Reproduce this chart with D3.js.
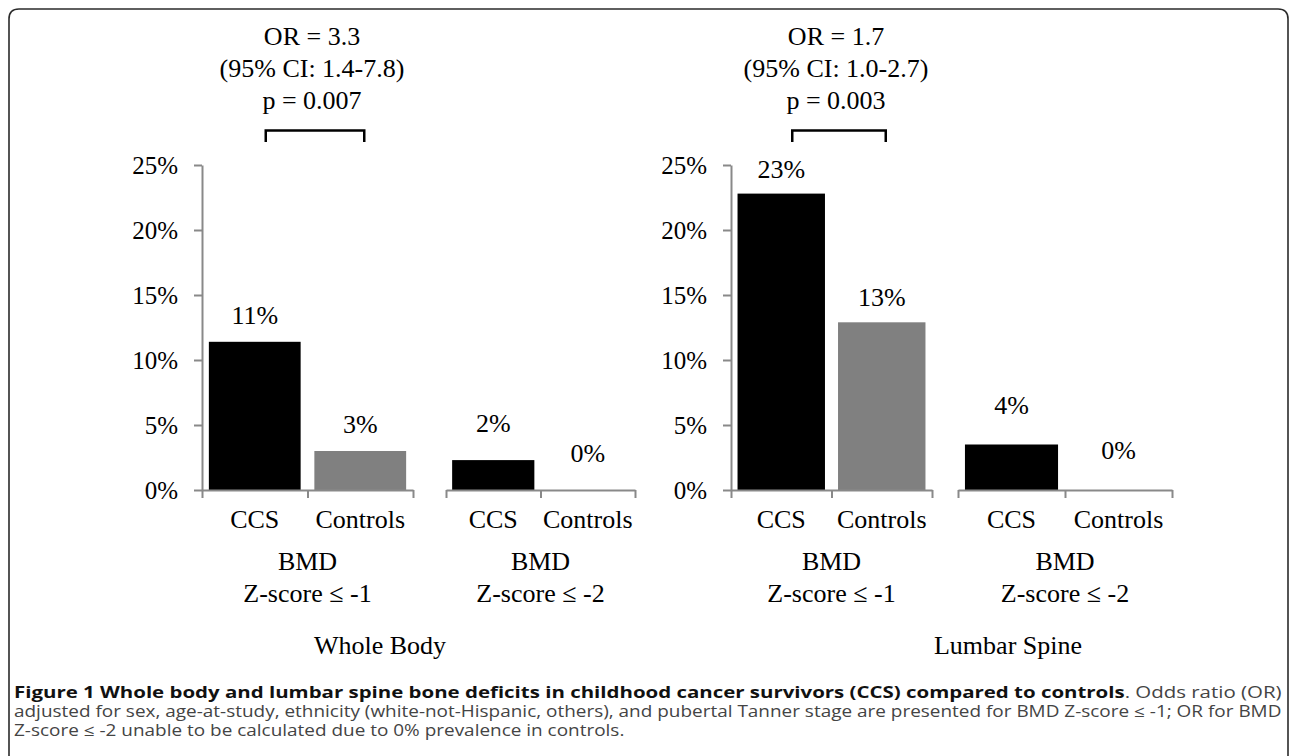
<!DOCTYPE html>
<html><head><meta charset="utf-8">
<script src="https://cdn.jsdelivr.net/npm/d3@7"></script>
<style>body{margin:0;background:#fff} svg{display:block}</style>
</head><body>
<svg id="c" width="1290" height="756"></svg>
<script>
// ---------- data ----------
const categories = ["CCS", "Controls"];
const wholeBodyZ1 = [11.4, 3.0];
const wholeBodyZ2 = [2.3, 0.0];
const lumbarZ1 = [22.8, 12.9];
const lumbarZ2 = [3.5, 0.0];
const yTicks = [0, 5, 10, 15, 20, 25];
const groupLine1 = "BMD";
const groupLine2 = ["Z-score ≤ -1", "Z-score ≤ -2"];
const panelTitles = ["Whole Body", "Lumbar Spine"];
const orWholeBody = ["OR = 3.3", "(95% CI: 1.4-7.8)", "p = 0.007"];
const orLumbar = ["OR = 1.7", "(95% CI: 1.0-2.7)", "p = 0.003"];
const captionBold = "Figure 1 Whole body and lumbar spine bone deficits in childhood cancer survivors (CCS) compared to controls";
const captionLine1Rest = ". Odds ratio (OR)";
const captionLine2 = "adjusted for sex, age-at-study, ethnicity (white-not-Hispanic, others), and pubertal Tanner stage are presented for BMD Z-score ≤ -1; OR for BMD";
const captionLine3 = "Z-score ≤ -2 unable to be calculated due to 0% prevalence in controls.";

// ---------- layout ----------
const svg = d3.select("#c");
const serif = "'Liberation Serif','Times New Roman',serif";
const sans = "'Open Sans','Noto Sans',sans-serif";
const axisColor = "#898989";
const barColors = ["#000000", "#808080"];

svg.append("path")
  .attr("d", "M9,770V19Q9,9 19,9H1278Q1288,9 1288,19V770")
  .attr("fill", "none").attr("stroke", "#2b2b2b").attr("stroke-width", 1.6);

const y = d3.scaleLinear().domain([0, 25]).range([490, 165]);

const charts = [
  {values: wholeBodyZ1, x0: 202, x1: 413, yAxis: true, sub: 0, off: 18},
  {values: wholeBodyZ2, x0: 446, x1: 635, yAxis: false, sub: 1, off: 28},
  {values: lumbarZ1, x0: 731, x1: 932, yAxis: true, sub: 0, off: 16},
  {values: lumbarZ2, x0: 958, x1: 1172, yAxis: false, sub: 1, off: 31}
];
const titleCenters = [380, 1008];

charts.forEach(ch => {
  const g = svg.append("g");
  const xb = d3.scaleBand().domain(categories).range([ch.x0, ch.x1])
    .paddingInner(0.13).paddingOuter(0.065);
  const xl = d3.scaleLinear().domain([0, categories.length]).range([ch.x0, ch.x1]);
  ch.xb = xb;

  g.selectAll("rect").data(ch.values).join("rect")
    .attr("x", (d, i) => xb(categories[i]))
    .attr("width", xb.bandwidth())
    .attr("y", d => y(d))
    .attr("height", d => y(0) - y(d))
    .attr("fill", (d, i) => barColors[i]);

  const xa = g.append("g").attr("transform", `translate(0,${y(0)})`)
    .call(d3.axisBottom(xl).tickValues(d3.range(categories.length + 1))
      .tickSize(8).tickSizeOuter(0).tickFormat(""));
  xa.selectAll("path,line").attr("stroke", axisColor).attr("stroke-width", 2);

  if (ch.yAxis) {
    const ya = g.append("g").attr("transform", `translate(${ch.x0},0)`)
      .call(d3.axisLeft(y).tickValues(yTicks).tickSize(8).tickSizeOuter(0)
        .tickPadding(16).tickFormat(d => d + "%"));
    ya.selectAll("path,line").attr("stroke", axisColor).attr("stroke-width", 2);
    ya.selectAll("text").attr("font-family", serif).attr("font-size", 25).attr("fill", "#000");
  }

  g.selectAll("text.val").data(ch.values).join("text").attr("class", "val")
    .attr("x", (d, i) => xb(categories[i]) + xb.bandwidth() / 2)
    .attr("y", d => y(d) - ch.off)
    .attr("text-anchor", "middle").attr("font-family", serif).attr("font-size", 26)
    .text(d => Math.round(d) + "%");

  g.selectAll("text.cat").data(categories).join("text").attr("class", "cat")
    .attr("x", d => xb(d) + xb.bandwidth() / 2).attr("y", 528)
    .attr("text-anchor", "middle").attr("font-family", serif).attr("font-size", 26)
    .text(d => d);

  const cx = (ch.x0 + ch.x1) / 2;
  g.append("text").attr("x", cx).attr("y", 570).attr("text-anchor", "middle")
    .attr("font-family", serif).attr("font-size", 26).text(groupLine1);
  g.append("text").attr("x", cx).attr("y", 602).attr("text-anchor", "middle")
    .attr("font-family", serif).attr("font-size", 26).text(groupLine2[ch.sub]);
});

[[charts[0], orWholeBody], [charts[2], orLumbar]].forEach(([ch, lines]) => {
  const xb = ch.xb;
  const a = xb(categories[0]) + xb.bandwidth() / 2 + 11;
  const b = xb(categories[1]) + xb.bandwidth() / 2 + 4;
  svg.append("path").attr("d", `M${a},142V130.5H${b}V142`)
    .attr("fill", "none").attr("stroke", "#000").attr("stroke-width", 2.5);
  const tx = (a + b) / 2 - 3;
  lines.forEach((t, i) => {
    svg.append("text").attr("x", tx).attr("y", 45 + i * 32).attr("text-anchor", "middle")
      .attr("font-family", serif).attr("font-size", 26).text(t);
  });
});

panelTitles.forEach((t, i) => {
  svg.append("text").attr("x", titleCenters[i]).attr("y", 654).attr("text-anchor", "middle")
    .attr("font-family", serif).attr("font-size", 26).text(t);
});

const capW = 1269, capX = 14;
const t1 = svg.append("text").attr("font-family", sans).attr("font-size", 15.5);
t1.append("tspan").attr("font-weight", "bold").attr("fill", "#111").text(captionBold);
t1.append("tspan").attr("fill", "#444").text(captionLine1Rest);
const w1 = t1.node().getComputedTextLength();
t1.attr("transform", `translate(${capX},698) scale(${capW / w1},1)`);

const t2 = svg.append("text").attr("font-family", sans).attr("font-size", 15.5).attr("fill", "#444").text(captionLine2);
const w2 = t2.node().getComputedTextLength();
const f2 = capW / w2;
t2.attr("transform", `translate(${capX},717) scale(${f2},1)`);
svg.append("text").attr("font-family", sans).attr("font-size", 15.5).attr("fill", "#444")
  .attr("transform", `translate(${capX},736) scale(${f2},1)`).text(captionLine3);
</script>
</body></html>
